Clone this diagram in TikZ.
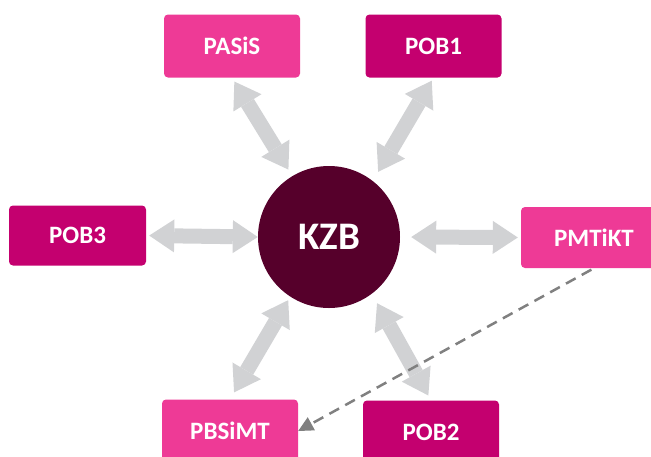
\documentclass[tikz,border=0pt]{standalone}
\usepackage{fontspec}
\setmainfont{Carlito}
\usetikzlibrary{arrows.meta}
\definecolor{pinkbox}{HTML}{EE3A96}
\definecolor{magbox}{HTML}{C4006F}
\definecolor{hubfill}{HTML}{56002B}
\definecolor{linkgray}{HTML}{D1D2D4}
\definecolor{dashgray}{HTML}{808080}
\begin{document}
\begin{tikzpicture}[x=1pt,y=-1pt,
  box/.style={rounded corners=4pt, minimum width=136pt, minimum height=63pt,
    inner sep=0pt, text=white, font=\fontsize{25}{30}\selectfont\bfseries},
  pinkb/.style={box, fill=pinkbox},
  magb/.style={box, fill=magbox},
  hub/.style={circle, fill=hubfill, minimum size=142pt, inner sep=0pt,
    text=white, font=\fontsize{39}{46}\selectfont\bfseries},
  dbl/.style={draw=linkgray, line width=15pt,
    {Triangle[length=25pt,width=33pt,line width=0pt]}-{Triangle[length=25pt,width=33pt,line width=0pt]}},
  dashlink/.style={draw=dashgray, line width=2.5pt, dash pattern=on 11pt off 7pt,
    -{Triangle[length=15pt,width=15pt,line width=0pt]}}
]
\useasboundingbox (0,0) rectangle (651,456);

% hub and surrounding units
\node[hub] (kzb) at (329,237) {KZB};
\node[pinkb] (pasis)  at (232,46)    {PASiS};
\node[magb]  (pob1)   at (433.5,46)  {POB1};
\node[magb, minimum width=137pt, minimum height=60pt] (pob3) at (77.5,235.5) {POB3};
\node[pinkb, minimum width=146pt, minimum height=61pt] (pmtikt) at (594,237.5) {PMTiKT};
\node[pinkb] (pbsimt) at (230,431)   {PBSiMT};
\node[magb]  (pob2)   at (431,432)   {POB2};

% two-way links to the hub
\draw[dbl, shorten <=4.5pt, shorten >=7.5pt] (pasis.south) -- (kzb.121);
\draw[dbl, shorten <=3.5pt, shorten >=10.5pt] (pob1.south) -- (kzb.52);
\draw[dbl, shorten <=3pt, shorten >=0pt] (pob3.east) -- (kzb.west);
\draw[dbl, shorten <=11pt, shorten >=3pt] (kzb.east) -- (pmtikt.west);
\draw[dbl, shorten <=8pt, shorten >=4pt] (pbsimt.north) -- (kzb.237);
\draw[dbl, shorten <=10.7pt, shorten >=5.5pt] (kzb.307) -- (pob2.north);

% dashed one-way link
\draw[dashlink, shorten <=3pt] (pmtikt.south) -- (pbsimt.east);
\end{tikzpicture}
\end{document}
